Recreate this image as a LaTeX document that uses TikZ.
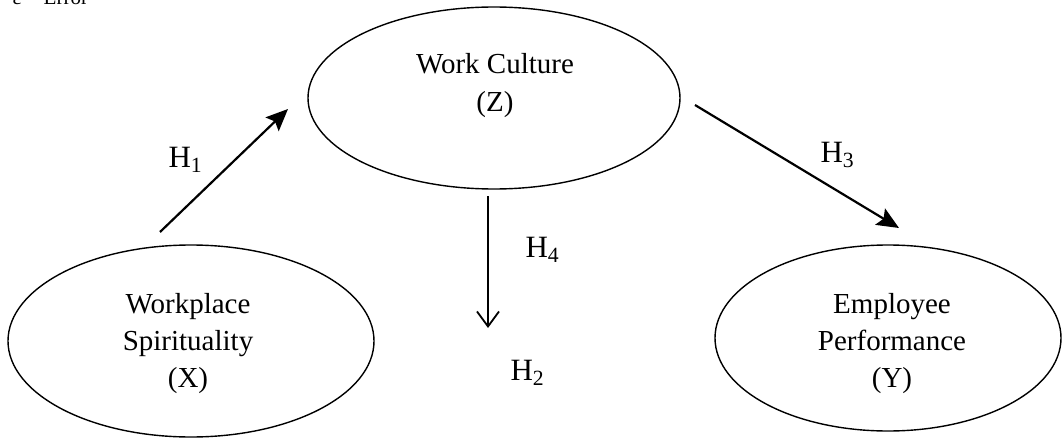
\documentclass[tikz,border=0pt]{standalone}
\usepackage{fontspec}
\setmainfont{Liberation Serif}
\usetikzlibrary{shapes.geometric,arrows.meta}
\begin{document}
\begin{tikzpicture}[x=1pt,y=-1pt,
  construct/.style={draw,ellipse,line width=1.4pt,inner sep=0pt},
  ctext/.style={align=center,anchor=base,font=\fontsize{29}{37}\selectfont},
  hlabel/.style={anchor=base west,font=\fontsize{31}{34}\selectfont},
  path/.style={line width=2.2pt,-{Stealth[length=22pt,width=19pt,inset=4pt]}},
  openpath/.style={line width=1.8pt,-{Straight Barb[length=15pt,width=22pt,line width=1.8pt]}}]
\useasboundingbox (0,0) rectangle (1064,441);
% ellipses
\node[construct,minimum width=366pt,minimum height=192pt] (X) at (191,341) {};
\node[construct,minimum width=372pt,minimum height=182pt] (Z) at (494,98) {};
\node[construct,minimum width=346pt,minimum height=186pt] (Y) at (888,338) {};
% texts (base anchor is at the last line)
\node[ctext] (Xt) at (188,387) {Workplace\\Spirituality\\(X)};
\node[ctext] (Zt) at (495,111) {Work Culture\\(Z)};
\node[ctext] (Yt) at (892,387) {Employee\\Performance\\(Y)};
% arrow end points
\coordinate (a1) at (160,232);
\coordinate (b1) at (288,109);
\coordinate (a4) at (488,196);
\coordinate (b4) at (488,328);
\coordinate (a3) at (695,105);
\coordinate (b3) at (899,228);
\draw[path] (a1) -- (b1);
\draw[openpath] (a4) -- (b4);
\draw[path] (a3) -- (b3);
% labels
\node[hlabel] (H1) at (165,167) {H\textsubscript{1}};
\node[hlabel] (H4) at (522,257) {H\textsubscript{4}};
\node[hlabel] (H3) at (817,162) {H\textsubscript{3}};
\node[hlabel] (H2) at (507,380) {H\textsubscript{2}};
\node[anchor=base west,font=\fontsize{21}{24}\selectfont] (err) at (9,5) {ε = Error};
\end{tikzpicture}
\end{document}
